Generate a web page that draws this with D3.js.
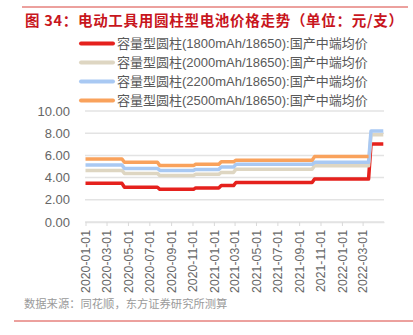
<!DOCTYPE html>
<html><head><meta charset="utf-8">
<script src="https://cdn.jsdelivr.net/npm/d3@7"></script>
<style>
html,body{margin:0;padding:0;background:#fff;}
svg{display:block;font-family:"Liberation Sans","Noto Sans CJK SC",sans-serif;}
</style></head>
<body>
<script>
// ---- data ----
const titleText = "图 34：电动工具用圆柱型电池价格走势（单位：元/支）";
const sourceText = "数据来源：同花顺，东方证券研究所测算";
const seriesNames = [
  "容量型圆柱(1800mAh/18650):国产中端均价",
  "容量型圆柱(2000mAh/18650):国产中端均价",
  "容量型圆柱(2200mAh/18650):国产中端均价",
  "容量型圆柱(2500mAh/18650):国产中端均价"
];
const seriesColors = ["#e5211d", "#ded6c2", "#a9c9f3", "#f9a25c"];
const dates = [
  "2020-01-01","2020-04-14","2020-04-21","2020-07-24","2020-07-31","2020-11-04",
  "2020-11-10","2021-01-15","2021-01-22","2021-02-26","2021-03-05","2021-10-08",
  "2021-10-15","2022-03-18","2022-03-25","2022-04-29"
];
const s1800 = [3.48,3.48,3.13,3.13,2.94,2.94,3.07,3.07,3.28,3.28,3.56,3.56,3.87,3.87,7.03,7.03];
const s2000 = [4.65,4.65,4.38,4.38,4.18,4.18,4.30,4.30,4.47,4.47,4.76,4.76,5.06,5.06,7.87,7.87];
const s2200 = [5.13,5.13,4.83,4.83,4.65,4.65,4.74,4.74,4.95,4.95,5.20,5.20,5.38,5.38,8.20,8.20];
const s2500 = [5.68,5.68,5.38,5.38,5.08,5.08,5.20,5.20,5.42,5.42,5.57,5.57,5.89,5.89,null,null];
const allSeries = [s1800, s2000, s2200, s2500];
const xTickLabels = ["2020-01-01","2020-03-01","2020-05-01","2020-07-01","2020-09-01","2020-11-01",
  "2021-01-01","2021-03-01","2021-05-01","2021-07-01","2021-09-01","2021-11-01","2022-01-01","2022-03-01"];
const yTicks = [0,2,4,6,8,10];

// ---- chart ----
const W = 413, H = 335;
const parse = d3.timeParse("%Y-%m-%d");
const svg = d3.select("body").append("svg").attr("width", W).attr("height", H);

svg.append("line").attr("x1",22).attr("x2",408).attr("y1",7).attr("y2",7)
  .attr("stroke","#d9423c").attr("stroke-width",1);
const title = svg.append("text").attr("x",25).attr("y",26).text(titleText)
  .attr("fill","#c8161d").attr("font-weight","bold").attr("font-size",14.5)
  .attr("font-family","'Noto Sans CJK SC','Liberation Sans',sans-serif");
{
  const bb = title.node().getBBox();
  const target = 378;
  const n = titleText.length;
  const ls = Math.max(0, (target - bb.width) / (n - 1));
  title.attr("letter-spacing", ls.toFixed(2));
}

const x = d3.scaleTime().domain([parse("2020-01-01"), parse("2022-05-01")]).range([85.5, 384]);
const y = d3.scaleLinear().domain([0,10]).range([222,111]);

// grid
svg.append("g").selectAll("line").data(yTicks).join("line")
  .attr("x1",85).attr("x2",384).attr("y1",d=>y(d)).attr("y2",d=>y(d))
  .attr("stroke","#e3e3e3").attr("stroke-width",1.5);

// y axis
const yAxis = svg.append("g").attr("transform","translate(72,0)")
  .call(d3.axisLeft(y).tickValues(yTicks).tickFormat(d3.format(".2f")).tickSize(0).tickPadding(2));
yAxis.select(".domain").remove();
yAxis.selectAll("text").attr("fill","#666").attr("font-size",13)
  .attr("font-family","'Liberation Sans',sans-serif");

// x axis
const xAxis = svg.append("g").attr("transform","translate(0,222)")
  .call(d3.axisBottom(x).tickValues(xTickLabels.map(parse)).tickFormat(d3.timeFormat("%Y-%m-%d")).tickSize(4).tickSizeOuter(0));
xAxis.select(".domain").attr("stroke","#e3e3e3").attr("stroke-width",1.5);
xAxis.selectAll(".tick line").attr("stroke","#d9d9d9");
xAxis.selectAll("text").attr("fill","#666").attr("font-size",12.3)
  .attr("font-family","'Liberation Sans',sans-serif")
  .attr("transform","rotate(-90)").attr("text-anchor","end")
  .attr("x",-8).attr("y",0).attr("dy","0.35em");

// lines
const line = d3.line().defined(d=>d[1]!=null).x(d=>x(d[0])).y(d=>y(d[1]));
[0,1,2,3].forEach(i=>{
  const pts = dates.map((d,j)=>[parse(d), allSeries[i][j]]);
  svg.append("path").datum(pts).attr("d",line).attr("fill","none")
    .attr("stroke",seriesColors[i]).attr("stroke-width",3.5).attr("stroke-linejoin","round");
});

// legend
const lg = svg.append("g");
seriesNames.forEach((n,i)=>{
  const yy = 43.5 + i*19;
  lg.append("line").attr("x1",81).attr("x2",113).attr("y1",yy).attr("y2",yy)
    .attr("stroke",seriesColors[i]).attr("stroke-width",4).attr("stroke-linecap","round");
  lg.append("text").attr("x",117).attr("y",yy).attr("dy","0.35em").text(n)
    .attr("fill","#595959").attr("font-size",13);
});

// source
svg.append("text").attr("x",24).attr("y",308).text(sourceText)
  .attr("fill","#9a9a9a").attr("font-size",11.3)
  .attr("font-family","'Noto Sans CJK SC',sans-serif");
svg.append("line").attr("x1",14).attr("x2",413).attr("y1",321).attr("y2",321)
  .attr("stroke","#d9423c").attr("stroke-width",1);
</script>
</body></html>
